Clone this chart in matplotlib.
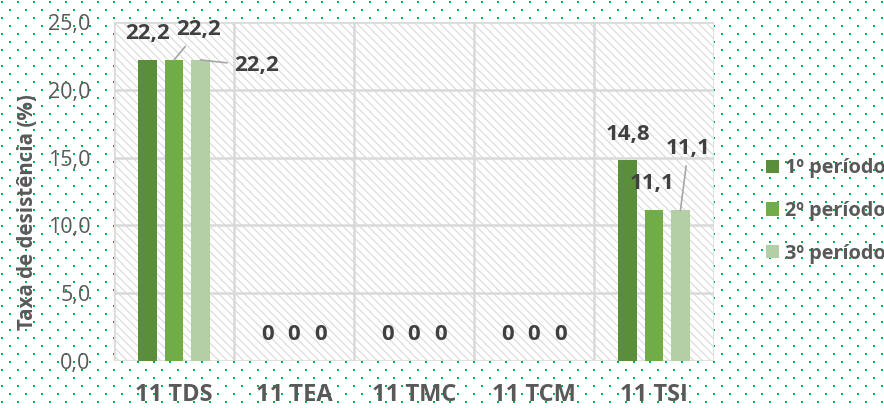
import numpy as np
import matplotlib
matplotlib.use("Agg")
import matplotlib.pyplot as plt
from matplotlib.patches import Rectangle, Patch

# -------------------------------------------------
# Data
# -------------------------------------------------
turmas = ["11 TDS", "11 TEA", "11 TMC", "11 TCM", "11 TSI"]
periodo_1 = [22.2, 0, 0, 0, 14.8]
periodo_2 = [22.2, 0, 0, 0, 11.1]
periodo_3 = [22.2, 0, 0, 0, 11.1]
series_names = ["1º período", "2º período", "3º período"]
y_ticks = [0, 5, 10, 15, 20, 25]
y_tick_labels = ["0,0", "5,0", "10,0", "15,0", "20,0", "25,0"]

colors = ["#5B8E3A", "#70AD47", "#B4CFA6"]
grid_c = "#D9D9D9"
text_c = "#595959"
label_c = "#404040"

plt.rcParams["font.family"] = ["Open Sans", "DejaVu Sans"]

fig = plt.figure(figsize=(8.84, 4.08), dpi=100)
W, H = 884, 408

# -------------------------------------------------
# Dotted green background
# -------------------------------------------------
bg = fig.add_axes([0, 0, 1, 1], zorder=0)
bg.set_xlim(0, W)
bg.set_ylim(H, 0)
bg.axis("off")
for k, y in enumerate(np.arange(1, H, 8)):
    xs = np.arange(1 + 8 * (k % 2), W, 16)
    bg.scatter(xs + 0.5, np.full(len(xs), y + 0.5), s=2.6, marker="s",
               color="#00B050", linewidths=0)

# -------------------------------------------------
# Plot area
# -------------------------------------------------
left, right, top, bottom = 114, 714, 22, 361
ax = fig.add_axes([left / W, (H - bottom) / H, (right - left) / W, (bottom - top) / H],
                  zorder=1)
ax.set_facecolor("white")
ax.set_xlim(-0.5, 4.5)
ax.set_ylim(0, 25)

plt.rcParams["hatch.linewidth"] = 0.8
ax.add_patch(Rectangle((0, 0), 1, 1, transform=ax.transAxes, facecolor="none",
                       edgecolor="#D9D9D9", hatch="\\\\\\\\", linewidth=0, zorder=0))

for y in y_ticks:
    ax.axhline(y, color=grid_c, lw=1.8, zorder=1)
for xb in np.arange(-0.5, 5, 1):
    ax.axvline(xb, color=grid_c, lw=1.8, zorder=1)

for s in ax.spines.values():
    s.set_visible(False)

x = np.arange(len(turmas))
offsets = [-0.22, 0.0, 0.22]
width = 0.155
all_vals = [periodo_1, periodo_2, periodo_3]
for i, vals in enumerate(all_vals):
    ax.bar(x + offsets[i], vals, width, color=colors[i], zorder=2,
           label=series_names[i])

# data labels (offsets in pixels from bar top)
label_kw = dict(textcoords="offset pixels", ha="center", va="center",
                fontsize=16, fontweight="bold", color=label_c, zorder=4)
special = {
    (0, 1): ((25, 30), True),
    (0, 2): ((56, -6), True),
    (4, 1): ((-2, 27), False),
    (4, 2): ((8, 62), True),
}
for i, vals in enumerate(all_vals):
    for j, v in enumerate(vals):
        txt = f"{v:.1f}".replace(".", ",") if v != 0 else "0"
        off, leader = special.get((j, i), ((0, 26), False))
        arrow = dict(arrowstyle="-", color="#A6A6A6", lw=1.2,
                     shrinkA=3, shrinkB=0) if leader else None
        ax.annotate(txt, xy=(x[j] + offsets[i], v), xytext=off,
                    arrowprops=arrow, **label_kw)

ax.set_yticks(y_ticks)
ax.set_yticklabels(y_tick_labels)
ax.set_xticks(x)
ax.set_xticklabels(turmas, fontweight="bold")
ax.tick_params(axis="y", length=0, pad=17, labelsize=15.5, labelcolor=text_c)
ax.tick_params(axis="x", length=0, pad=16, labelsize=17, labelcolor=text_c)

fig.text(28 / W, 0.5 * ((H - 95) + (H - 330)) / H, "Taxa de desistência (%)",
         rotation=90, ha="center", va="center", fontsize=14.8,
         fontweight="bold", color=text_c)

handles = [Patch(facecolor=c, edgecolor="none") for c in colors]
leg = fig.legend(handles, series_names, loc="center left",
                 bbox_to_anchor=(756 / W, (H - 211) / H), frameon=False,
                 fontsize=14.3, handlelength=0.65, handleheight=0.65,
                 handletextpad=0.3, labelspacing=1.15, borderpad=0)
for t in leg.get_texts():
    t.set_color(text_c)
    t.set_fontweight("bold")

fig.savefig("out.png", dpi=100)
